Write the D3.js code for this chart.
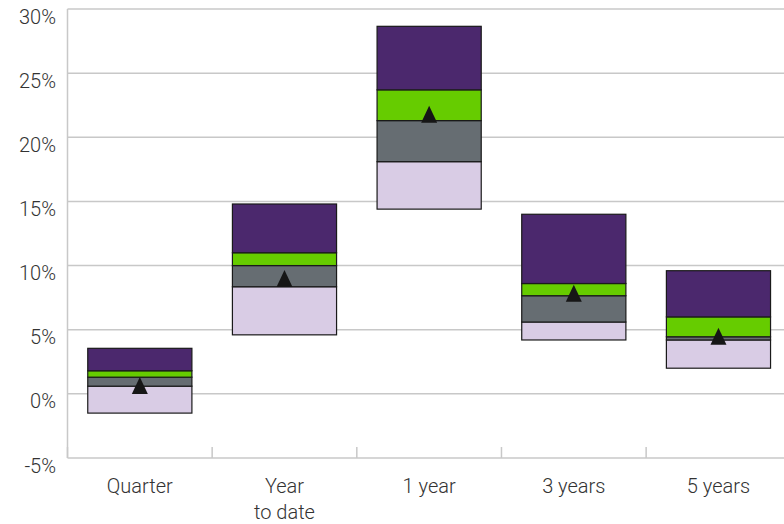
<!DOCTYPE html>
<html>
<head>
<meta charset="utf-8">
<script src="https://cdn.jsdelivr.net/npm/d3@7"></script>
<style>
  html, body { margin: 0; padding: 0; background: #fff; }
  svg { display: block; }
  text { font-family: Roboto, "Liberation Sans", Arial, sans-serif; font-weight: 300; fill: #333; }
</style>
</head>
<body>
<svg id="chart" width="784" height="524"></svg>
<script>
// ---- data ----
const categories = ["Quarter", "Year\nto date", "1 year", "3 years", "5 years"];
const lowValues    = [-1.5, 4.6, 14.4, 4.2, 2.0];    // bottom of lavender
const q1Values     = [0.6, 8.35, 18.1, 5.6, 4.2];    // lavender / gray boundary
const medianValues = [1.3, 10.0, 21.3, 7.65, 4.45];  // gray / green boundary
const q3Values     = [1.8, 11.0, 23.7, 8.6, 6.0];    // green / purple boundary
const highValues   = [3.55, 14.8, 28.65, 14.0, 9.6]; // top of purple
const markerValues = [0.65, 9.0, 21.8, 7.85, 4.5];   // triangle marker
const yTicks = [-5, 0, 5, 10, 15, 20, 25, 30];
const segmentColors = ["#D9CCE5", "#666D72", "#66CC00", "#4B286D"];

// ---- layout ----
const svg = d3.select("#chart");
const plotLeft = 67.5, plotRight = 790.8, plotTop = 9, plotBottom = 458;

const x = d3.scaleBand().domain(categories).range([plotLeft, plotRight])
  .paddingInner(0.28).paddingOuter(0.14);
const y = d3.scaleLinear().domain([-5, 30]).range([plotBottom, plotTop]);
const step = x.step();

// gridlines
svg.append("g").selectAll("line").data(yTicks.filter(t => t !== -5)).join("line")
  .attr("x1", plotLeft).attr("x2", 784)
  .attr("y1", d => y(d)).attr("y2", d => y(d))
  .attr("stroke", "#c8c8c8").attr("stroke-width", 1.5);

// y axis line
svg.append("line").attr("x1", plotLeft).attr("x2", plotLeft)
  .attr("y1", y(30)).attr("y2", y(-5))
  .attr("stroke", "#c8c8c8").attr("stroke-width", 1.5);

// x axis line
svg.append("line").attr("x1", plotLeft).attr("x2", 784)
  .attr("y1", y(-5)).attr("y2", y(-5))
  .attr("stroke", "#c8c8c8").attr("stroke-width", 1.5);

// x axis ticks between categories
svg.append("g").selectAll("line").data(categories).join("line")
  .attr("x1", d => x(d) - x.paddingInner() * step / 2)
  .attr("x2", d => x(d) - x.paddingInner() * step / 2)
  .attr("y1", y(-5)).attr("y2", y(-5) - 11)
  .attr("stroke", "#c8c8c8").attr("stroke-width", 1.5);

// y tick labels
svg.append("g").selectAll("text").data(yTicks).join("text")
  .attr("x", 56).attr("y", d => y(d) + 14.5)
  .attr("text-anchor", "end").attr("font-size", 20)
  .text(d => d + "%");

// x labels
const xl = svg.append("g").selectAll("text").data(categories).join("text")
  .attr("x", d => x(d) + x.bandwidth() / 2)
  .attr("y", 493)
  .attr("text-anchor", "middle").attr("font-size", 20);
xl.each(function(d) {
  const lines = d.split("\n");
  d3.select(this).selectAll("tspan").data(lines).join("tspan")
    .attr("x", x(d) + x.bandwidth() / 2)
    .attr("dy", (l, i) => i === 0 ? 0 : 26)
    .text(l => l);
});

// stacked floating bars
const bars = categories.map((c, i) => {
  const bounds = [lowValues[i], q1Values[i], medianValues[i], q3Values[i], highValues[i]];
  return d3.range(4).map(k => ({ c, k, y0: bounds[k], y1: bounds[k + 1] }));
}).flat();

svg.append("g").selectAll("rect").data(bars).join("rect")
  .attr("x", d => x(d.c))
  .attr("width", x.bandwidth())
  .attr("y", d => y(d.y1))
  .attr("height", d => y(d.y0) - y(d.y1))
  .attr("fill", d => segmentColors[d.k])
  .attr("stroke", "#1a1a1a").attr("stroke-width", 1.2);

// triangle markers
svg.append("g").selectAll("path").data(categories).join("path")
  .attr("transform", (d, i) => `translate(${x(d) + x.bandwidth() / 2},${y(markerValues[i])})`)
  .attr("d", "M0,-8.5L8,8.5L-8,8.5Z")
  .attr("fill", "#161616");
</script>
</body>
</html>
